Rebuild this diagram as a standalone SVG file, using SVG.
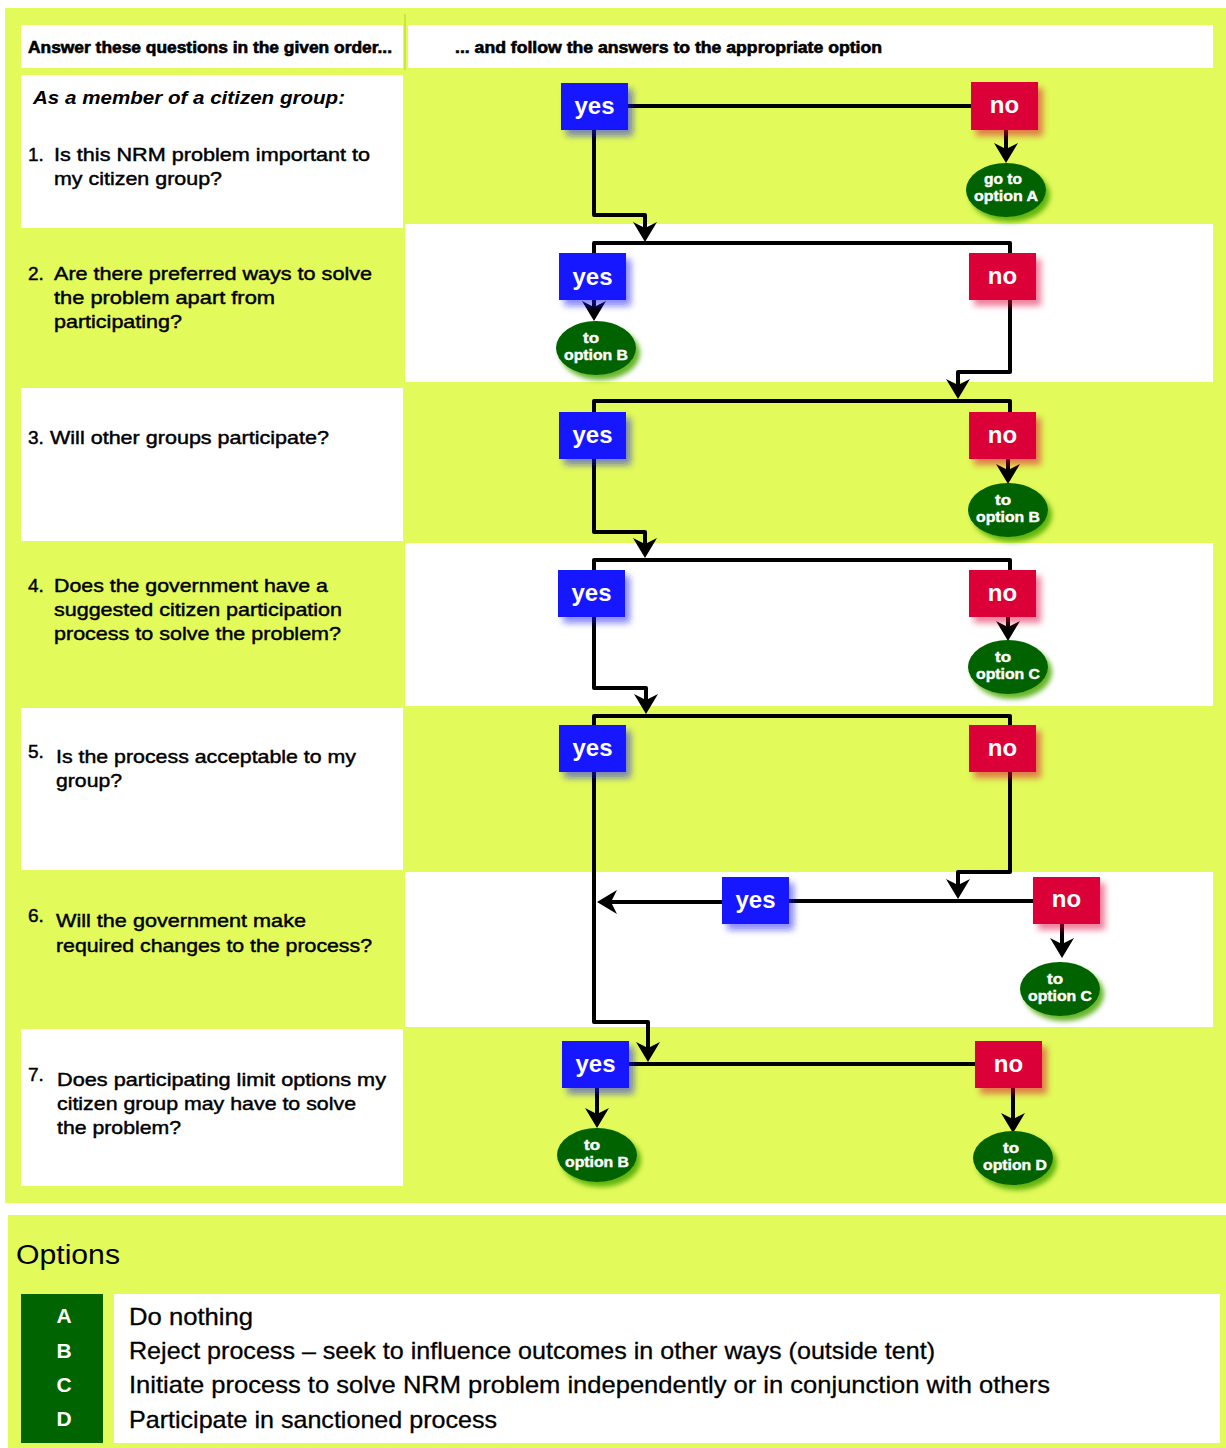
<svg xmlns="http://www.w3.org/2000/svg" width="1226" height="1448" viewBox="0 0 1226 1448">
<style>
.bg{fill:#E2FA5A}
.wh{fill:#FFFFFF}
.q{font-family:"Liberation Sans",Arial,sans-serif;font-size:19px;fill:#000;stroke:#000;stroke-width:0.45}
.hd{font-family:"Liberation Sans",Arial,sans-serif;font-size:16px;font-weight:bold;fill:#000;stroke:#000;stroke-width:0.6}
.it{font-family:"Liberation Sans",Arial,sans-serif;font-size:19px;font-weight:bold;font-style:italic;fill:#000}
.yes{fill:#1414FF}
.no{fill:#DC0037}
.bt{font-family:"Liberation Sans",Arial,sans-serif;font-size:24px;font-weight:bold;fill:#FFF;text-anchor:middle}
.ov{fill:#006400}
.ot{font-family:"Liberation Sans",Arial,sans-serif;font-size:14.5px;font-weight:bold;fill:#FFF;text-anchor:middle;stroke:#FFF;stroke-width:0.4}
.ln{fill:none;stroke:#000;stroke-width:4;stroke-linejoin:round}
.arr{marker-end:url(#ah)}
.opt{font-family:"Liberation Sans",Arial,sans-serif;font-size:24px;fill:#000;stroke:#000;stroke-width:0.3}
.let{font-family:"Liberation Sans",Arial,sans-serif;font-size:21px;font-weight:bold;fill:#FFF;text-anchor:middle}
</style>
<defs>
<marker id="ah" markerUnits="userSpaceOnUse" markerWidth="20" markerHeight="24" viewBox="0 0 20 24" refX="12" refY="12" orient="auto">
<path d="M0,0 L20,12 L0,24 L6,12 Z" fill="#000"/>
</marker>
<filter id="shb" x="-30%" y="-30%" width="170%" height="170%">
<feGaussianBlur in="SourceGraphic" stdDeviation="3"/>
<feOffset dx="5" dy="6" result="b"/>
<feComponentTransfer in="b" result="c"><feFuncA type="linear" slope="0.5"/></feComponentTransfer>
<feMerge><feMergeNode in="c"/><feMergeNode in="SourceGraphic"/></feMerge>
</filter>
<filter id="she" x="-30%" y="-30%" width="170%" height="170%">
<feDropShadow dx="4" dy="5" stdDeviation="2.5" flood-color="#4BA800" flood-opacity="0.85"/>
</filter>
</defs>

<!-- backgrounds -->
<rect class="bg" x="5" y="8" width="1221" height="1195"/>
<rect class="wh" x="21" y="25" width="382" height="43"/>
<rect class="wh" x="408" y="25" width="805" height="43"/>
<rect x="404" y="14" width="2" height="56" fill="#CDE63C"/>
<rect class="wh" x="21" y="75" width="382" height="153"/>
<rect class="wh" x="405" y="224" width="808" height="158"/>
<rect class="wh" x="21" y="388" width="382" height="153"/>
<rect class="wh" x="405" y="543" width="808" height="163"/>
<rect class="wh" x="21" y="708" width="382" height="162"/>
<rect class="wh" x="405" y="872" width="808" height="155"/>
<rect class="wh" x="21" y="1029" width="382" height="157"/>

<!-- header and questions -->
<text class="hd" x="28" y="53" textLength="364" lengthAdjust="spacingAndGlyphs">Answer these questions in the given order...</text>
<text class="hd" x="455" y="53" textLength="427" lengthAdjust="spacingAndGlyphs">... and follow the answers to the appropriate option</text>
<text class="it" x="33" y="104" textLength="312" lengthAdjust="spacingAndGlyphs">As a member of a citizen group:</text>

<text class="q" x="28" y="161">1.</text>
<text class="q" x="54" y="161" textLength="316" lengthAdjust="spacingAndGlyphs">Is this NRM problem important to</text>
<text class="q" x="54" y="185" textLength="168" lengthAdjust="spacingAndGlyphs">my citizen group?</text>

<text class="q" x="28" y="280">2.</text>
<text class="q" x="54" y="280" textLength="318" lengthAdjust="spacingAndGlyphs">Are there preferred ways to solve</text>
<text class="q" x="54" y="304" textLength="221" lengthAdjust="spacingAndGlyphs">the problem apart from</text>
<text class="q" x="54" y="328" textLength="128" lengthAdjust="spacingAndGlyphs">participating?</text>

<text class="q" x="28" y="444">3.</text>
<text class="q" x="50" y="444" textLength="279" lengthAdjust="spacingAndGlyphs">Will other groups participate?</text>

<text class="q" x="28" y="592">4.</text>
<text class="q" x="54" y="592" textLength="274" lengthAdjust="spacingAndGlyphs">Does the government have a</text>
<text class="q" x="54" y="616" textLength="288" lengthAdjust="spacingAndGlyphs">suggested citizen participation</text>
<text class="q" x="54" y="640" textLength="287" lengthAdjust="spacingAndGlyphs">process to solve the problem?</text>

<text class="q" x="28" y="758">5.</text>
<text class="q" x="56" y="763" textLength="300" lengthAdjust="spacingAndGlyphs">Is the process acceptable to my</text>
<text class="q" x="56" y="787" textLength="66" lengthAdjust="spacingAndGlyphs">group?</text>

<text class="q" x="28" y="922">6.</text>
<text class="q" x="56" y="927" textLength="250" lengthAdjust="spacingAndGlyphs">Will the government make</text>
<text class="q" x="56" y="952" textLength="316" lengthAdjust="spacingAndGlyphs">required changes to the process?</text>

<text class="q" x="28" y="1081">7.</text>
<text class="q" x="57" y="1086" textLength="329" lengthAdjust="spacingAndGlyphs">Does participating limit options my</text>
<text class="q" x="57" y="1110" textLength="299" lengthAdjust="spacingAndGlyphs">citizen group may have to solve</text>
<text class="q" x="57" y="1134" textLength="124" lengthAdjust="spacingAndGlyphs">the problem?</text>

<!-- connectors -->
<g id="connectors">
<path class="ln" d="M628,106 H971"/>
<path class="ln arr" d="M594,130 V215 H645 V234"/>
<path class="ln" d="M594,253 V243 H1010 V253"/>
<path class="ln arr" d="M1006,130 V155"/>
<path class="ln arr" d="M594,300 V313"/>
<path class="ln arr" d="M1010,300 V372 H958 V391"/>
<path class="ln" d="M594,412 V401 H1010 V412"/>
<path class="ln arr" d="M1008,459 V476"/>
<path class="ln arr" d="M594,459 V532 H645 V550"/>
<path class="ln" d="M594,570 V560 H1010 V570"/>
<path class="ln arr" d="M1008,617 V633"/>
<path class="ln arr" d="M594,617 V688 H646 V706"/>
<path class="ln" d="M594,725 V716 H1010 V725"/>
<path class="ln arr" d="M594,772 V1022 H648 V1054"/>
<path class="ln arr" d="M1010,772 V872 H958 V891"/>
<path class="ln" d="M1033,901 H789"/>
<path class="ln arr" d="M722,902 H605"/>
<path class="ln arr" d="M1062,924 V950"/>
<path class="ln" d="M629,1064 H975"/>
<path class="ln arr" d="M597,1088 V1120"/>
<path class="ln arr" d="M1013,1088 V1125"/>
</g>

<!-- nodes -->
<g id="q1-yes"><rect class="yes" x="561" y="83" width="67" height="47" filter="url(#shb)"/><text class="bt" x="594.5" y="114">yes</text></g>
<g id="q1-no"><rect class="no" x="971" y="82" width="67" height="48" filter="url(#shb)"/><text class="bt" x="1004.5" y="113">no</text></g>
<g id="q1-optA"><ellipse class="ov" cx="1006" cy="190" rx="40" ry="27" filter="url(#she)"/><text class="ot" x="1003" y="184" textLength="38" lengthAdjust="spacingAndGlyphs">go to</text><text class="ot" x="1006" y="201" textLength="64" lengthAdjust="spacingAndGlyphs">option A</text></g>

<g id="q2-yes"><rect class="yes" x="559" y="253" width="67" height="47" filter="url(#shb)"/><text class="bt" x="592.5" y="285">yes</text></g>
<g id="q2-no"><rect class="no" x="969" y="253" width="67" height="47" filter="url(#shb)"/><text class="bt" x="1002.5" y="284">no</text></g>
<g id="q2-optB"><ellipse class="ov" cx="596" cy="348" rx="40" ry="27" filter="url(#she)"/><text class="ot" x="591" y="343" textLength="16" lengthAdjust="spacingAndGlyphs">to</text><text class="ot" x="596" y="360" textLength="64" lengthAdjust="spacingAndGlyphs">option B</text></g>

<g id="q3-yes"><rect class="yes" x="559" y="412" width="67" height="47" filter="url(#shb)"/><text class="bt" x="592.5" y="443">yes</text></g>
<g id="q3-no"><rect class="no" x="969" y="412" width="67" height="47" filter="url(#shb)"/><text class="bt" x="1002.5" y="443">no</text></g>
<g id="q3-optB"><ellipse class="ov" cx="1008" cy="510" rx="40" ry="27" filter="url(#she)"/><text class="ot" x="1003" y="505" textLength="16" lengthAdjust="spacingAndGlyphs">to</text><text class="ot" x="1008" y="522" textLength="64" lengthAdjust="spacingAndGlyphs">option B</text></g>

<g id="q4-yes"><rect class="yes" x="558" y="570" width="67" height="47" filter="url(#shb)"/><text class="bt" x="591.5" y="601">yes</text></g>
<g id="q4-no"><rect class="no" x="969" y="570" width="67" height="47" filter="url(#shb)"/><text class="bt" x="1002.5" y="601">no</text></g>
<g id="q4-optC"><ellipse class="ov" cx="1008" cy="667" rx="40" ry="27" filter="url(#she)"/><text class="ot" x="1003" y="662" textLength="16" lengthAdjust="spacingAndGlyphs">to</text><text class="ot" x="1008" y="679" textLength="64" lengthAdjust="spacingAndGlyphs">option C</text></g>

<g id="q5-yes"><rect class="yes" x="559" y="725" width="67" height="47" filter="url(#shb)"/><text class="bt" x="592.5" y="756">yes</text></g>
<g id="q5-no"><rect class="no" x="969" y="725" width="67" height="47" filter="url(#shb)"/><text class="bt" x="1002.5" y="756">no</text></g>

<g id="q6-yes"><rect class="yes" x="722" y="877" width="67" height="47" filter="url(#shb)"/><text class="bt" x="755.5" y="908">yes</text></g>
<g id="q6-no"><rect class="no" x="1033" y="877" width="67" height="47" filter="url(#shb)"/><text class="bt" x="1066.5" y="907">no</text></g>
<g id="q6-optC"><ellipse class="ov" cx="1060" cy="989" rx="40" ry="27" filter="url(#she)"/><text class="ot" x="1055" y="984" textLength="16" lengthAdjust="spacingAndGlyphs">to</text><text class="ot" x="1060" y="1001" textLength="64" lengthAdjust="spacingAndGlyphs">option C</text></g>

<g id="q7-yes"><rect class="yes" x="562" y="1041" width="67" height="47" filter="url(#shb)"/><text class="bt" x="595.5" y="1072">yes</text></g>
<g id="q7-no"><rect class="no" x="975" y="1041" width="67" height="47" filter="url(#shb)"/><text class="bt" x="1008.5" y="1072">no</text></g>
<g id="q7-optB"><ellipse class="ov" cx="597" cy="1155" rx="40" ry="27" filter="url(#she)"/><text class="ot" x="592" y="1150" textLength="16" lengthAdjust="spacingAndGlyphs">to</text><text class="ot" x="597" y="1167" textLength="64" lengthAdjust="spacingAndGlyphs">option B</text></g>
<g id="q7-optD"><ellipse class="ov" cx="1013" cy="1158" rx="40" ry="27" filter="url(#she)"/><text class="ot" x="1011" y="1153" textLength="16" lengthAdjust="spacingAndGlyphs">to</text><text class="ot" x="1015" y="1170" textLength="64" lengthAdjust="spacingAndGlyphs">option D</text></g>

<!-- options legend -->
<g id="options">
<rect class="bg" x="8" y="1215" width="1218" height="233"/>
<text x="16" y="1264" font-family="Liberation Sans, Arial, sans-serif" font-size="27" fill="#000" textLength="104" lengthAdjust="spacingAndGlyphs">Options</text>
<rect x="21" y="1294" width="82" height="149" fill="#006400"/>
<rect class="wh" x="114" y="1294" width="1106" height="149"/>
<text class="let" x="64" y="1323">A</text>
<text class="let" x="64" y="1358">B</text>
<text class="let" x="64" y="1392">C</text>
<text class="let" x="64" y="1426">D</text>
<text class="opt" x="129" y="1325" textLength="124" lengthAdjust="spacingAndGlyphs">Do nothing</text>
<text class="opt" x="129" y="1359" textLength="806" lengthAdjust="spacingAndGlyphs">Reject process – seek to influence outcomes in other ways (outside tent)</text>
<text class="opt" x="129" y="1393" textLength="921" lengthAdjust="spacingAndGlyphs">Initiate process to solve NRM problem independently or in conjunction with others</text>
<text class="opt" x="129" y="1428" textLength="368" lengthAdjust="spacingAndGlyphs">Participate in sanctioned process</text>
</g>
</svg>
